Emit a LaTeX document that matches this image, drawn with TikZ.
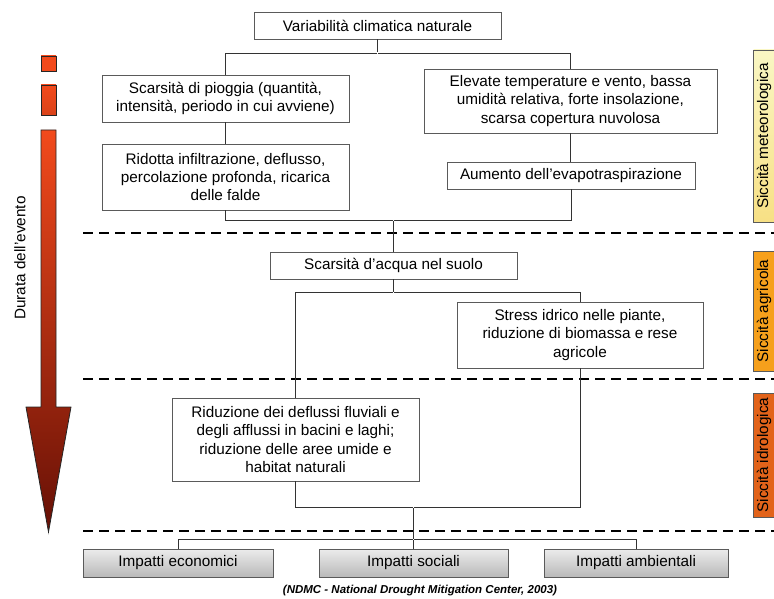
\documentclass[tikz,border=0pt]{standalone}
\usepackage{fontspec}
\setmainfont{Liberation Sans}
\usepackage{tikz}
\usetikzlibrary{positioning, calc}

\definecolor{arrowtop}{HTML}{F24A1C}
\definecolor{arrowbot}{HTML}{661006}
\definecolor{boxline}{HTML}{5A5A5A}
\definecolor{meteo}{HTML}{F6F19C}
\definecolor{agri}{HTML}{F6A01C}
\definecolor{idro}{HTML}{E2631A}

\begin{document}
\begin{tikzpicture}[x=1pt, y=-1pt]
  \tikzstyle{coord}=[inner sep=0pt, outer sep=0pt]
  \tikzstyle{cause}=[draw=boxline, fill=white, align=center, inner sep=2pt, minimum width=247pt,
    font=\fontsize{15.3}{18.3}\selectfont]
  \tikzstyle{impact}=[draw=boxline, top color=gray!15, bottom color=gray!55, minimum height=28pt,
    font=\fontsize{15.3}{18.3}\selectfont]
  \tikzstyle{phase}=[draw=boxline, minimum height=21pt, rotate=90, inner sep=0pt,
    font=\fontsize{15.3}{18.3}\selectfont]
  \tikzstyle{sep}=[dashed, line width=2pt, dash pattern=on 10pt off 6pt]
  \tikzstyle{link}=[draw=black!80, line width=0.8pt]

  \useasboundingbox (0,0) rectangle (774,599);

  % phase separators
  \draw[sep] (83,233) -- (774,233);
  \draw[sep] (83,379) -- (774,379);
  \draw[sep] (83,531) -- (774,531);

  % duration arrow on the left
  \shadedraw[top color=arrowtop, bottom color=arrowtop, draw=black!85, thick] (41,56) rectangle (56,71);
  \shadedraw[top color=arrowtop, bottom color=arrowtop!90!black, draw=black!85, thick] (41,85) rectangle (56,115);
  \shadedraw[top color=arrowtop, bottom color=arrowbot, draw=black!85, thick]
    (41,130) -- (56,130) -- (56,407) -- (71,407) -- (48.5,532) -- (26,407) -- (41,407) -- cycle;
  \node (durata) at (20,258) [rotate=90, font=\fontsize{15.3}{18.3}\selectfont] {Durata dell’evento};

  % meteorological drought
  \node (var) at (377.5,25.5) [cause, minimum height=27pt] {Variabilità climatica naturale};
  \node (pioggia) at (225.5,98.5) [cause, minimum height=47pt] {Scarsità di pioggia (quantità,\\ intensità, periodo in cui avviene)};
  \node (ridotta) at (225.5,177) [cause, minimum height=66pt] {Ridotta infiltrazione, deflusso,\\ percolazione profonda, ricarica\\ delle falde};
  \node (elevate) at (570.5,101) [cause, minimum width=293pt, minimum height=64pt] {Elevate temperature e vento, bassa\\ umidità relativa, forte insolazione,\\ scarsa copertura nuvolosa};
  \node (aumento) at (571,175.5) [cause, minimum width=248pt, minimum height=27pt] {Aumento dell’evapotraspirazione};

  % agricultural drought
  \node (suolo) at (393.5,265.5) [cause, minimum height=27pt] {Scarsità d’acqua nel suolo};
  \node (stress) at (580,335) [cause, minimum width=246pt, minimum height=66pt] {Stress idrico nelle piante,\\ riduzione di biomassa e rese\\ agricole};

  % hydrological drought
  \node (riduz) at (295.5,439.5) [cause, minimum height=83pt] {Riduzione dei deflussi fluviali e\\ degli afflussi in bacini e laghi;\\ riduzione delle aree umide e\\ habitat naturali};

  % impacts
  \node (economici) at (178,563) [impact, minimum width=190pt] {Impatti economici};
  \node (sociali) at (413.5,563) [impact, minimum width=189pt] {Impatti sociali};
  \node (ambientali) at (636,563) [impact, minimum width=184pt] {Impatti ambientali};

  % phase labels
  \node (lmeteo) at (764,136) [phase, top color=meteo!60!white, bottom color=meteo!85!orange, minimum width=172pt] {Siccità meteorologica};
  \node (lagri) at (764,311) [phase, fill=agri, minimum width=120pt] {Siccità agricola};
  \node (lidro) at (764,455) [phase, fill=idro, minimum width=124pt] {Siccità idrologica};

  % junctions
  \node (j1) at (377.5,53) [coord] {};
  \node (j2) at (393.5,220) [coord] {};
  \node (j3) at (393.5,292) [coord] {};
  \node (j4) at (413.5,507) [coord] {};
  \node (j5) at (413.5,539) [coord] {};

  % connections
  \draw[link] (var) -- (j1);
  \draw[link] (pioggia.north) |- (j1) -| (elevate.north);
  \draw[link] (pioggia) -- (ridotta);
  \draw[link] (elevate.south) -- (aumento.north -| elevate.south);
  \draw[link] (ridotta.south) |- (j2) -| (aumento.south);
  \draw[link] (j2) -- (suolo);
  \draw[link] (suolo) -- (j3);
  \draw[link] (riduz.north) |- (j3) -| (stress.north);
  \draw[link] (riduz.south) |- (j4) -| (stress.south);
  \draw[link] (j4) -- (j5);
  \draw[link] (economici.north) |- (j5) -| (ambientali.north);
  \draw[link] (j5) -- (sociali);

  % source
  \node (fonte) at (420,591) [font=\fontsize{11.5}{13}\selectfont\bfseries\itshape] {(NDMC - National Drought Mitigation Center, 2003)};
\end{tikzpicture}
\end{document}
